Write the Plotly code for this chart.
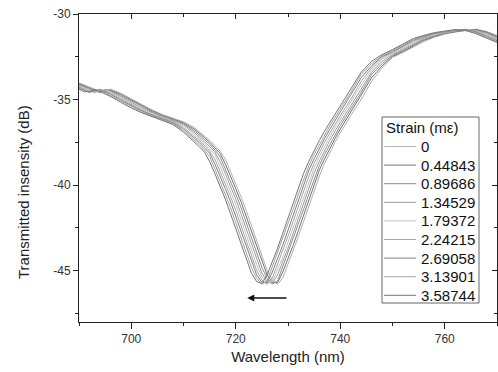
import plotly.graph_objects as go

# ---------------- data ----------------
wavelength = [690, 691, 692, 693, 694, 695, 696, 698, 700, 702, 704, 706, 708, 710, 712,
              713, 714, 715, 716, 717, 718, 719, 720, 721, 722, 723, 724, 725, 726, 727,
              728, 729, 730, 731, 732, 733, 734, 735, 736, 737, 738, 739, 740, 741, 742,
              744, 746, 748, 750, 752, 754, 756, 758, 760, 762, 764, 766, 768, 770]

strain_labels = ["0", "0.44843", "0.89686", "1.34529", "1.79372",
                 "2.24215", "2.69058", "3.13901", "3.58744"]

s_0 = [-34.03, -34.14, -34.26, -34.37, -34.51, -34.55, -34.39, -34.63, -34.95, -35.29, -35.61, -35.88, -36.10, -36.30, -36.62,
       -36.86, -37.11, -37.39, -37.68, -38.01, -38.48, -39.18, -39.91, -40.67, -41.49, -42.37, -43.26, -44.15, -44.98, -45.55,
       -45.80, -45.43, -44.62, -43.86, -42.99, -42.11, -41.23, -40.35, -39.47, -38.73, -38.08, -37.50, -36.95, -36.43, -35.94,
       -35.00, -33.94, -33.15, -32.54, -32.25, -31.94, -31.61, -31.36, -31.17, -31.05, -30.96, -30.89, -31.02, -31.25]
s_1 = [-34.07, -34.19, -34.30, -34.42, -34.58, -34.49, -34.44, -34.69, -35.02, -35.36, -35.66, -35.92, -36.14, -36.36, -36.71,
       -36.95, -37.22, -37.50, -37.81, -38.14, -38.76, -39.46, -40.21, -40.97, -41.84, -42.72, -43.62, -44.48, -45.25, -45.68,
       -45.70, -45.08, -44.35, -43.51, -42.64, -41.76, -40.88, -40.00, -39.12, -38.47, -37.84, -37.28, -36.73, -36.24, -35.74,
       -34.79, -33.73, -33.03, -32.48, -32.20, -31.88, -31.54, -31.32, -31.14, -31.04, -30.95, -30.91, -31.05, -31.31]
s_2 = [-34.12, -34.23, -34.35, -34.48, -34.59, -34.42, -34.48, -34.76, -35.09, -35.42, -35.72, -35.97, -36.17, -36.41, -36.81,
       -37.06, -37.33, -37.62, -37.94, -38.34, -39.04, -39.76, -40.52, -41.31, -42.19, -43.08, -43.98, -44.82, -45.45, -45.79,
       -45.60, -44.76, -44.04, -43.16, -42.28, -41.40, -40.52, -39.65, -38.86, -38.21, -37.62, -37.06, -36.53, -36.04, -35.56,
       -34.58, -33.54, -32.90, -32.43, -32.14, -31.81, -31.48, -31.29, -31.11, -31.02, -30.93, -30.94, -31.10, -31.36]
s_3 = [-34.16, -34.28, -34.39, -34.55, -34.52, -34.41, -34.53, -34.82, -35.16, -35.49, -35.77, -36.01, -36.21, -36.46, -36.90,
       -37.17, -37.44, -37.75, -38.07, -38.62, -39.32, -40.06, -40.82, -41.67, -42.54, -43.44, -44.31, -45.15, -45.63, -45.75,
       -45.25, -44.49, -43.69, -42.81, -41.93, -41.05, -40.17, -39.30, -38.60, -37.95, -37.39, -36.84, -36.34, -35.84, -35.37,
       -34.37, -33.41, -32.76, -32.37, -32.08, -31.74, -31.43, -31.25, -31.09, -31.00, -30.91, -30.97, -31.15, -31.41]
s_4 = [-34.21, -34.33, -34.44, -34.62, -34.46, -34.46, -34.57, -34.88, -35.23, -35.55, -35.83, -36.06, -36.25, -36.52, -37.00,
       -37.28, -37.55, -37.88, -38.20, -38.90, -39.61, -40.37, -41.14, -42.02, -42.90, -43.80, -44.65, -45.35, -45.74, -45.65,
       -44.90, -44.21, -43.34, -42.46, -41.58, -40.70, -39.82, -38.99, -38.34, -37.73, -37.17, -36.63, -36.14, -35.65, -35.18,
       -34.16, -33.28, -32.63, -32.31, -32.01, -31.68, -31.40, -31.21, -31.07, -30.98, -30.89, -30.99, -31.20, -31.46]
s_5 = [-34.26, -34.37, -34.51, -34.55, -34.39, -34.50, -34.63, -34.95, -35.29, -35.61, -35.88, -36.10, -36.30, -36.62, -37.11,
       -37.39, -37.68, -38.01, -38.48, -39.18, -39.91, -40.67, -41.49, -42.37, -43.26, -44.15, -44.98, -45.55, -45.80, -45.43,
       -44.62, -43.86, -42.99, -42.11, -41.23, -40.35, -39.47, -38.73, -38.08, -37.50, -36.95, -36.43, -35.94, -35.46, -35.00,
       -33.94, -33.15, -32.54, -32.25, -31.94, -31.61, -31.36, -31.17, -31.05, -30.96, -30.89, -31.02, -31.25, -31.51]
s_6 = [-34.30, -34.42, -34.58, -34.49, -34.44, -34.55, -34.69, -35.02, -35.36, -35.66, -35.92, -36.14, -36.36, -36.71, -37.22,
       -37.50, -37.81, -38.14, -38.76, -39.46, -40.21, -40.97, -41.84, -42.72, -43.62, -44.48, -45.25, -45.68, -45.70, -45.08,
       -44.35, -43.51, -42.64, -41.76, -40.88, -40.00, -39.12, -38.47, -37.84, -37.28, -36.73, -36.24, -35.74, -35.28, -34.79,
       -33.73, -33.03, -32.48, -32.20, -31.88, -31.54, -31.32, -31.14, -31.04, -30.95, -30.91, -31.05, -31.31, -31.56]
s_7 = [-34.35, -34.48, -34.59, -34.42, -34.48, -34.60, -34.76, -35.09, -35.42, -35.72, -35.97, -36.17, -36.41, -36.81, -37.33,
       -37.62, -37.94, -38.34, -39.04, -39.76, -40.52, -41.31, -42.19, -43.08, -43.98, -44.82, -45.45, -45.79, -45.60, -44.76,
       -44.04, -43.16, -42.28, -41.40, -40.52, -39.65, -38.86, -38.21, -37.62, -37.06, -36.53, -36.04, -35.56, -35.09, -34.58,
       -33.54, -32.90, -32.43, -32.14, -31.81, -31.48, -31.29, -31.11, -31.02, -30.93, -30.94, -31.10, -31.36, -31.61]
s_8 = [-34.39, -34.55, -34.52, -34.41, -34.53, -34.66, -34.82, -35.16, -35.49, -35.77, -36.01, -36.21, -36.46, -36.90, -37.44,
       -37.75, -38.07, -38.62, -39.32, -40.06, -40.82, -41.67, -42.54, -43.44, -44.31, -45.15, -45.63, -45.75, -45.25, -44.49,
       -43.69, -42.81, -41.93, -41.05, -40.17, -39.30, -38.60, -37.95, -37.39, -36.84, -36.34, -35.84, -35.37, -34.90, -34.37,
       -33.41, -32.76, -32.37, -32.08, -31.74, -31.43, -31.25, -31.09, -31.00, -30.91, -30.97, -31.15, -31.41, -31.66]

series = [s_0, s_1, s_2, s_3, s_4, s_5, s_6, s_7, s_8]

x_ticks = [700, 720, 740, 760]
x_minor = [690, 710, 730, 750, 770]
y_ticks = [-30, -35, -40, -45]
y_tick_text = ["-30", "-35", "-40", "-45"]
y_minor = [-32.5, -37.5, -42.5, -47.5]
x_range = [690, 770]
y_range = [-48, -30]

arrow_tail = (730.0, -46.6)
arrow_head = (722.2, -46.6)

# ---------------- styling ----------------
colors = ["#b2b2b2", "#727272", "#8c8c8c", "#9c9c9c", "#c2c2c2",
          "#a6a6a6", "#808080", "#a2a2a2", "#767676"]
FONT = "Liberation Sans, Arial, sans-serif"
AX = "#222222"

W, H = 498, 372
ML, MR, MT, MB = 79, 1, 14, 50
PW, PH = W - ML - MR, H - MT - MB


def px(x):
    return (x - ML) / PW


def py(y):
    return (H - MB - y) / PH


fig = go.Figure()
for lab, ys, c in zip(strain_labels, series, colors):
    fig.add_trace(go.Scatter(x=wavelength, y=ys, mode="lines", name=lab,
                             line=dict(color=c, width=1), showlegend=False))
fig.add_trace(go.Scatter(x=[None], y=[None], xaxis="x2", yaxis="y2",
                         showlegend=False, hoverinfo="skip"))

common = dict(showgrid=False, zeroline=False, showline=True, linecolor=AX,
              linewidth=1, tickcolor=AX, tickwidth=1)

fig.update_layout(
    width=W, height=H, margin=dict(l=ML, r=MR, t=MT, b=MB),
    paper_bgcolor="white", plot_bgcolor="white",
    font=dict(family=FONT, color=AX),
    showlegend=False,
    xaxis=dict(range=x_range, tickmode="array", tickvals=x_ticks, ticks="outside",
               ticklen=6, tickfont=dict(size=12, color="#333333"),
               minor=dict(tickvals=x_minor, ticks="outside", ticklen=3, tickcolor=AX),
               title=dict(text="Wavelength (nm)", font=dict(size=15, color=AX), standoff=6),
               **common),
    yaxis=dict(range=y_range, tickmode="array", tickvals=y_ticks, ticktext=y_tick_text,
               ticks="outside", ticklen=5, tickfont=dict(size=12, color="#333333"),
               minor=dict(tickvals=y_minor, ticks="outside", ticklen=3, tickcolor=AX),
               **common),
    xaxis2=dict(range=x_range, overlaying="x", side="top", anchor="y",
                tickmode="array", tickvals=x_ticks, ticks="inside", ticklen=5,
                showticklabels=False,
                minor=dict(tickvals=x_minor, ticks="inside", ticklen=3, tickcolor=AX),
                **common),
    yaxis2=dict(range=y_range, overlaying="y", side="right", anchor="x",
                tickmode="array", tickvals=y_ticks, ticks="inside", ticklen=5,
                showticklabels=False,
                minor=dict(tickvals=y_minor, ticks="inside", ticklen=3, tickcolor=AX),
                **common),
)

annotations = [
    dict(text="Transmitted insensity (dB)", textangle=-90, xref="paper", yref="paper",
         x=px(23), y=py(192), xanchor="center", yanchor="middle", showarrow=False,
         font=dict(size=15, color=AX, family=FONT)),
    dict(x=arrow_head[0], y=arrow_head[1], ax=arrow_tail[0], ay=arrow_tail[1],
         xref="x", yref="y", axref="x", ayref="y", text="", showarrow=True,
         arrowhead=2, arrowsize=1, arrowwidth=1.4, arrowcolor="#111111"),
    dict(text="Strain (m\u03b5)", xref="paper", yref="paper", x=px(384), y=py(128),
         xanchor="left", yanchor="middle", showarrow=False,
         font=dict(size=15, color="#111111", family=FONT)),
]
shapes = [dict(type="rect", xref="paper", yref="paper", x0=px(382), x1=px(479),
               y0=py(303), y1=py(117), line=dict(color="#666666", width=1),
               fillcolor="white", layer="above")]
for k, (lab, c) in enumerate(zip(strain_labels, colors)):
    yy = 146.5 + 18.6 * k
    shapes.append(dict(type="line", xref="paper", yref="paper", x0=px(384), x1=px(416),
                       y0=py(yy), y1=py(yy), line=dict(color=c, width=1), layer="above"))
    annotations.append(dict(text=lab, xref="paper", yref="paper", x=px(419), y=py(yy),
                            xanchor="left", yanchor="middle", showarrow=False,
                            font=dict(size=15, color="#111111", family=FONT)))

fig.update_layout(annotations=annotations, shapes=shapes)
fig.write_html("out.html")
